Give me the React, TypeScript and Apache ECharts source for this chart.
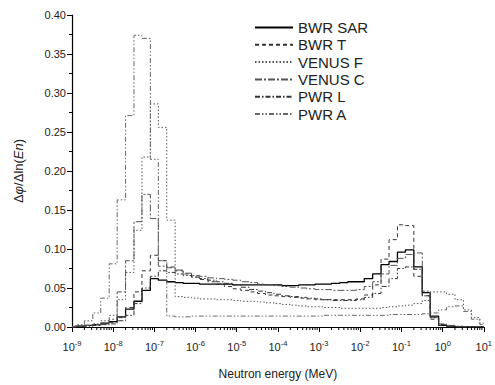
import React, { useEffect, useRef } from "react";
import * as echarts from "echarts";

// Bin edges (MeV): 0.2-decade groups
const edges: number[] = [
  1e-9, 1.25e-9, 2e-9, 3.2e-9, 5e-9, 8e-9,
  1.25e-8, 2e-8, 3.2e-8, 5e-8, 8e-8,
  1.25e-7, 2e-7, 3.2e-7, 5e-7, 8e-7,
  1.25e-6, 2e-6, 3.2e-6, 5e-6, 8e-6,
  1.25e-5, 2e-5, 3.2e-5, 5e-5, 8e-5,
  1.25e-4, 2e-4, 3.2e-4, 5e-4, 8e-4,
  1.25e-3, 2e-3, 3.2e-3, 5e-3, 8e-3,
  1.25e-2, 2e-2, 3.2e-2, 5e-2, 8e-2,
  1.25e-1, 2e-1, 3.2e-1, 5e-1, 8e-1,
  1.25, 2, 3.2, 5, 8, 10,
];

const seriesNames = ["BWR SAR", "BWR T", "VENUS F", "VENUS C", "PWR L", "PWR A"];

// values per bin (51 bins)
const bwrSar: number[] = [
  0, 0.001, 0.002, 0.003, 0.005, 0.007, 0.013, 0.023, 0.033, 0.047,
  0.062, 0.060, 0.058, 0.057, 0.056, 0.056, 0.055, 0.055, 0.055, 0.055,
  0.054, 0.054, 0.054, 0.054, 0.054, 0.054, 0.053, 0.053, 0.054, 0.054,
  0.055, 0.055, 0.056, 0.057, 0.058, 0.058, 0.062, 0.068, 0.080, 0.084,
  0.096, 0.099, 0.077, 0.044, 0.014, 0.002, 0.001, 0, 0, 0, 0,
];
const bwrT: number[] = [
  0, 0.001, 0.002, 0.003, 0.004, 0.006, 0.012, 0.025, 0.045, 0.072,
  0.092, 0.085, 0.077, 0.072, 0.068, 0.064, 0.061, 0.058, 0.055, 0.052,
  0.049, 0.047, 0.045, 0.043, 0.041, 0.040, 0.039, 0.038, 0.037, 0.036,
  0.035, 0.035, 0.035, 0.035, 0.035, 0.036, 0.041, 0.054, 0.087, 0.112,
  0.131, 0.130, 0.065, 0.040, 0.010, 0.002, 0.001, 0, 0, 0, 0,
];
const venusF: number[] = [
  0, 0.001, 0.002, 0.004, 0.008, 0.015, 0.035, 0.070, 0.124, 0.218,
  0.286, 0.256, 0.137, 0.039, 0.038, 0.037, 0.036, 0.036, 0.035, 0.035,
  0.034, 0.033, 0.033, 0.032, 0.031, 0.030, 0.029, 0.028, 0.027, 0.026,
  0.026, 0.025, 0.025, 0.024, 0.024, 0.024, 0.024, 0.024, 0.025, 0.026,
  0.027, 0.028, 0.030, 0.034, 0.045, 0.045, 0.042, 0.035, 0.022, 0.012, 0.005,
];
const venusC: number[] = [
  0, 0.001, 0.002, 0.003, 0.005, 0.010, 0.045, 0.085, 0.135, 0.170,
  0.139, 0.078, 0.076, 0.073, 0.069, 0.066, 0.065, 0.063, 0.062, 0.061,
  0.060, 0.058, 0.057, 0.055, 0.054, 0.053, 0.052, 0.051, 0.050, 0.049,
  0.048, 0.048, 0.047, 0.047, 0.047, 0.048, 0.052, 0.058, 0.068, 0.079,
  0.088, 0.093, 0.095, 0.046, 0.012, 0.004, 0.002, 0.001, 0, 0, 0,
];
const pwrL: number[] = [
  0, 0.001, 0.001, 0.002, 0.003, 0.004, 0.008, 0.015, 0.030, 0.050,
  0.065, 0.072, 0.070, 0.068, 0.066, 0.064, 0.062, 0.060, 0.058, 0.056,
  0.054, 0.051, 0.048, 0.046, 0.044, 0.042, 0.040, 0.039, 0.038, 0.037,
  0.036, 0.035, 0.034, 0.034, 0.034, 0.035, 0.038, 0.043, 0.052, 0.062,
  0.075, 0.077, 0.074, 0.040, 0.012, 0.003, 0.001, 0, 0, 0, 0,
];
const pwrA: number[] = [
  0.001, 0.003, 0.008, 0.018, 0.037, 0.081, 0.163, 0.271, 0.374, 0.370,
  0.215, 0.085, 0.014, 0.013, 0.013, 0.014, 0.014, 0.014, 0.014, 0.014,
  0.014, 0.014, 0.014, 0.014, 0.014, 0.014, 0.014, 0.014, 0.014, 0.014,
  0.014, 0.015, 0.015, 0.015, 0.015, 0.015, 0.015, 0.015, 0.015, 0.016,
  0.016, 0.016, 0.016, 0.017, 0.018, 0.022, 0.026, 0.027, 0.020, 0.010, 0.003,
];

const minorMantissas: number[] = [2, 3, 4, 5, 6, 7, 8, 9];
const decades: number[] = [-9, -8, -7, -6, -5, -4, -3, -2, -1, 0];

const styles: { color: string; type: any; width: number }[] = [
  { color: "#000000", type: "solid", width: 1.3 },
  { color: "#333333", type: [4, 3], width: 1 },
  { color: "#555555", type: [1.5, 2], width: 1 },
  { color: "#555555", type: [7, 2, 2, 2], width: 1 },
  { color: "#333333", type: [5, 2, 1.5, 2], width: 1 },
  { color: "#666666", type: [5, 2, 1.5, 2, 1.5, 2], width: 1 },
];

const allValues = [bwrSar, bwrT, venusF, venusC, pwrL, pwrA];

function stepData(vals: number[]): [number, number][] {
  const pts: [number, number][] = vals.map((v, i) => [edges[i], v]);
  pts.push([edges[edges.length - 1], vals[vals.length - 1]]);
  return pts;
}

export default function App() {
  const ref = useRef<HTMLDivElement>(null);
  useEffect(() => {
    if (!ref.current) return;
    const chart = echarts.init(ref.current, null, { renderer: "svg" });
    const minorTicks: number[] = [];
    decades.forEach((d) => minorMantissas.forEach((m) => minorTicks.push(m * Math.pow(10, d))));
    const font = "Liberation Sans, Arial, sans-serif";
    const option: any = {
      animation: false,
      textStyle: { fontFamily: font },
      grid: { left: 72, right: 3, top: 15, bottom: 50, containLabel: false },
      legend: {
        orient: "vertical",
        left: 254,
        top: 20,
        padding: 0,
        itemWidth: 38,
        itemHeight: 14,
        itemGap: 2.3,
        itemStyle: { opacity: 0 },
        textStyle: { fontSize: 15, color: "#222", fontFamily: font },
        data: seriesNames,
      },
      xAxis: {
        type: "log",
        logBase: 10,
        min: 1e-9,
        max: 10,
        name: "Neutron energy (MeV)",
        nameLocation: "middle",
        nameGap: 41,
        nameTextStyle: { fontSize: 12, color: "#222", fontFamily: font },
        axisLine: { show: true, onZero: false, lineStyle: { color: "#000", width: 1.2 } },
        axisTick: { show: true, inside: false, length: 5, lineStyle: { color: "#000" } },
        splitLine: { show: false },
        axisLabel: {
          color: "#222",
          fontSize: 11,
          margin: 12,
          formatter: (v: number) => {
            const e = Math.round(Math.log10(v));
            return "10{s|" + e + "}";
          },
          rich: {
            s: { fontSize: 7.5, padding: [0, 0, 7, 0], color: "#222" },
          },
        },
      },
      yAxis: {
        type: "value",
        min: 0,
        max: 0.4,
        interval: 0.05,
        name: "{a|Δ}{b|φ}{a|/Δln(}{b|En}{a|)}",
        nameLocation: "middle",
        nameGap: 47,
        nameRotate: 90,
        nameTextStyle: {
          fontSize: 13,
          color: "#222",
          rich: {
            a: { fontSize: 13, color: "#222", fontFamily: font },
            b: { fontSize: 13, color: "#222", fontStyle: "italic", fontFamily: font },
          },
        },
        axisLine: { show: true, lineStyle: { color: "#000", width: 1.2 } },
        axisTick: { show: true, length: 5, lineStyle: { color: "#000" } },
        minorTick: { show: true, splitNumber: 2, length: 3, lineStyle: { color: "#000" } },
        splitLine: { show: false },
        minorSplitLine: { show: false },
        axisLabel: {
          color: "#222",
          fontSize: 11,
          margin: 6,
          formatter: (v: number) => v.toFixed(2),
        },
      },
      series: [
        ...allValues.map((vals, i) => ({
          name: seriesNames[i],
          type: "line",
          step: "end",
          data: stepData(vals),
          showSymbol: false,
          symbol: "none",
          lineStyle: { color: styles[i].color, type: styles[i].type, width: styles[i].width },
          itemStyle: { color: styles[i].color },
          z: 2 + i,
        })),
        {
          type: "custom",
          name: "minor",
          silent: true,
          clip: false,
          data: minorTicks.map((t) => [t, 0]),
          renderItem: (params: any, api: any) => {
            const p = api.coord([api.value(0), 0]);
            return {
              type: "line",
              shape: { x1: p[0], y1: p[1], x2: p[0], y2: p[1] + 3 },
              style: { stroke: "#000", lineWidth: 1 },
            };
          },
          z: 10,
        },
      ],
    };
    chart.setOption(option);
    return () => chart.dispose();
  }, []);
  return <div ref={ref} style={{ width: 495, height: 385, position: "absolute", left: 0, top: 0 }} />;
}
